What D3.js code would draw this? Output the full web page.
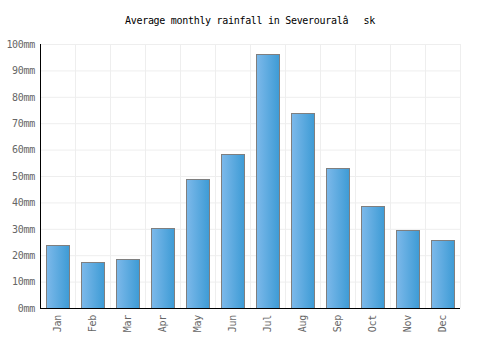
<!DOCTYPE html>
<html>
<head>
<meta charset="utf-8">
<script src="https://cdn.jsdelivr.net/npm/d3@7"></script>
<style>
  body { margin: 0; background: #fff; }
  text { font-family: "DejaVu Sans Mono", monospace; }
</style>
</head>
<body>
<script>
var months = ['Jan', 'Feb', 'Mar', 'Apr', 'May', 'Jun', 'Jul', 'Aug', 'Sep', 'Oct', 'Nov', 'Dec'];
var rainfall = [23.7, 17.3, 18.5, 30.3, 49, 58.2, 96.1, 73.9, 53, 38.6, 29.5, 25.8];
var yTicks = [0, 10, 20, 30, 40, 50, 60, 70, 80, 90, 100];
var title = 'Average monthly rainfall in Severouralâ\u0080\u0099sk';

var width = 500;
var height = 350;
var margin = { top: 44, right: 40, bottom: 42, left: 40 };
var innerW = width - margin.left - margin.right;
var innerH = height - margin.top - margin.bottom;

var x = d3.scaleBand().domain(months).range([0, innerW]).paddingInner(0.32).paddingOuter(0.16);
var xGrid = d3.scaleLinear().domain([0, months.length]).range([0, innerW]);
var y = d3.scaleLinear().domain([0, 100]).range([innerH, 0]);

var svg = d3.select('body').append('svg')
    .attr('width', width)
    .attr('height', height);

var grad = svg.append('defs').append('linearGradient')
    .attr('id', 'barGrad')
    .attr('x1', '0%').attr('x2', '100%').attr('y1', '0%').attr('y2', '0%');
grad.append('stop').attr('offset', '0%').attr('stop-color', '#7db9ea');
grad.append('stop').attr('offset', '100%').attr('stop-color', '#3d9bd5');

svg.append('text')
    .attr('x', width / 2)
    .attr('y', 24)
    .attr('text-anchor', 'middle')
    .style('font-size', '10px')
    .style('letter-spacing', '-0.3px')
    .attr('fill', '#000')
    .text(title);

var g = svg.append('g').attr('transform', 'translate(' + margin.left + ',' + margin.top + ')');

// grid
g.selectAll('.hgrid').data(yTicks).enter().append('line')
    .attr('x1', 0).attr('x2', innerW)
    .attr('y1', function(d) { return y(d) + 0.5; })
    .attr('y2', function(d) { return y(d) + 0.5; })
    .attr('stroke', '#eeeeee');

g.selectAll('.vgrid').data(d3.range(1, months.length + 1)).enter().append('line')
    .attr('x1', function(d) { return xGrid(d) + 0.5; })
    .attr('x2', function(d) { return xGrid(d) + 0.5; })
    .attr('y1', 0).attr('y2', innerH)
    .attr('stroke', '#eeeeee');

// bars
g.selectAll('rect.bar').data(rainfall).enter().append('rect')
    .attr('class', 'bar')
    .attr('x', function(d, i) { return Math.round(x(months[i])) + 0.5; })
    .attr('y', function(d) { return Math.round(y(d)) + 0.5; })
    .attr('width', Math.round(x.bandwidth()) - 1)
    .attr('height', function(d) { return Math.round(innerH - y(d)); })
    .attr('fill', 'url(#barGrad)')
    .attr('stroke', '#7f7f7f')
    .attr('stroke-width', 1);

// y axis
var yAxis = g.append('g')
    .call(d3.axisLeft(y).tickValues(yTicks).tickSize(0).tickPadding(5)
        .tickFormat(function(d) { return d + 'mm'; }));
yAxis.select('.domain').remove();
yAxis.selectAll('text').attr('fill', '#666').style('font-size', '10px')
    .style('letter-spacing', '-0.3px')
    .style('font-family', '"DejaVu Sans Mono", monospace');

// x axis
var xAxis = g.append('g')
    .attr('transform', 'translate(0,' + innerH + ')')
    .call(d3.axisBottom(x).tickSize(0).tickPadding(0));
xAxis.select('.domain').remove();
xAxis.selectAll('text')
    .attr('fill', '#666')
    .style('font-size', '10px')
    .style('letter-spacing', '-0.3px')
    .style('font-family', '"DejaVu Sans Mono", monospace')
    .attr('text-anchor', 'end')
    .attr('dy', '0.35em')
    .attr('transform', 'translate(0,7) rotate(-90)');

// axis lines
g.append('line').attr('x1', 0.5).attr('x2', 0.5).attr('y1', 0).attr('y2', innerH + 0.5)
    .attr('stroke', '#000');
g.append('line').attr('x1', 0).attr('x2', innerW).attr('y1', innerH + 0.5).attr('y2', innerH + 0.5)
    .attr('stroke', '#000');
</script>
</body>
</html>
